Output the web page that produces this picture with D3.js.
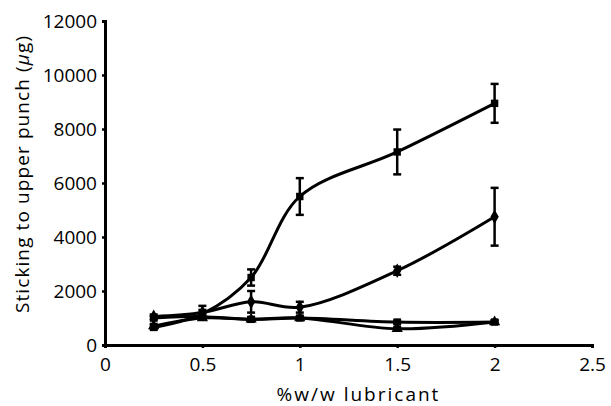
<!DOCTYPE html>
<html>
<head>
<meta charset="utf-8">
<script src="https://cdn.jsdelivr.net/npm/d3@7"></script>
<style>
  body { margin: 0; background: #fff; }
  svg text { font-family: "Open Sans", "Noto Sans", sans-serif; fill: #000; }
</style>
</head>
<body>
<div id="chart"></div>
<script>
// -------------------------------------------------------------------------
// Data

const lubricant = [0.25, 0.5, 0.75, 1, 1.5, 2];

const seriesA = [650, 1150, 2500, 5500, 7150, 8950];
const errorA = [80, 150, 300, 680, 830, 720];

const seriesB = [1050, 1200, 1600, 1400, 2750, 4750];
const errorB = [80, 250, 400, 200, 150, 1070];

const seriesC = [1000, 1050, 950, 1000, 850, 850];
const errorC = [80, 80, 80, 60, 60, 60];

const seriesD = [700, 1000, 950, 1000, 600, 850];
const errorD = [80, 60, 60, 60, 60, 60];

const xTicks = [0, 0.5, 1, 1.5, 2, 2.5];
const yTicks = [0, 2000, 4000, 6000, 8000, 10000, 12000];

// -------------------------------------------------------------------------
// Layout

const width = 611;
const height = 406;

const x = d3.scaleLinear().domain([0, 2.5]).range([105, 592]);
const y = d3.scaleLinear().domain([0, 12000]).range([345, 21]);

const svg = d3.select('#chart')
  .append('svg')
  .attr('width', width)
  .attr('height', height);

// axes
const xAxis = svg.append('g')
  .attr('transform', `translate(0,${y(0)})`)
  .call(d3.axisBottom(x).tickValues(xTicks).tickSize(3).tickPadding(10)
    .tickFormat(d => String(d)));

const yAxis = svg.append('g')
  .attr('transform', `translate(${x(0)},0)`)
  .call(d3.axisLeft(y).tickValues(yTicks).tickSize(3).tickPadding(5)
    .tickFormat(d => String(d)));

[xAxis, yAxis].forEach(function(g) {
  g.select('.domain').attr('stroke', '#000').attr('stroke-width', 3);
  g.selectAll('.tick line').attr('stroke', '#000').attr('stroke-width', 2.5);
  g.selectAll('.tick text').attr('font-size', 19).attr('fill', '#000');
});

// axis titles
svg.append('text')
  .attr('x', (x(0) + x(2.5)) / 2 + 10)
  .attr('y', 401)
  .attr('text-anchor', 'middle')
  .attr('font-size', 19)
  .attr('letter-spacing', 2)
  .text('%w/w lubricant');

const yTitle = svg.append('text')
  .attr('transform', 'translate(29,174) rotate(-90)')
  .attr('text-anchor', 'middle')
  .attr('font-size', 19)
  .attr('letter-spacing', 1.1);
yTitle.append('tspan').text('Sticking to upper punch (');
yTitle.append('tspan').attr('font-style', 'italic').text('\u03bc');
yTitle.append('tspan').text('g)');

// -------------------------------------------------------------------------
// Series

const series = [
  { values: seriesD, errors: errorD, marker: 'triangle' },
  { values: seriesC, errors: errorC, marker: 'square' },
  { values: seriesB, errors: errorB, marker: 'diamond' },
  { values: seriesA, errors: errorA, marker: 'square' }
];

const line = d3.line()
  .x(d => x(d.x))
  .y(d => y(d.y))
  .curve(d3.curveCatmullRom.alpha(0.5));

const symbols = {
  square: d3.symbol().type(d3.symbolSquare).size(55),
  diamond: d3.symbol().type(d3.symbolDiamond).size(60),
  triangle: d3.symbol().type(d3.symbolTriangle).size(55)
};

series.forEach(function(s) {
  const points = lubricant.map((v, i) => ({ x: v, y: s.values[i], e: s.errors[i] }));

  svg.append('path')
    .datum(points)
    .attr('fill', 'none')
    .attr('stroke', '#000')
    .attr('stroke-width', 3)
    .attr('d', line);

  const bars = svg.append('g')
    .attr('stroke', '#000')
    .attr('stroke-width', 2.5);

  points.forEach(function(p) {
    bars.append('line')
      .attr('x1', x(p.x)).attr('x2', x(p.x))
      .attr('y1', y(p.y - p.e)).attr('y2', y(p.y + p.e));
    [p.y - p.e, p.y + p.e].forEach(function(v) {
      bars.append('line')
        .attr('x1', x(p.x) - 4).attr('x2', x(p.x) + 4)
        .attr('y1', y(v)).attr('y2', y(v));
    });
  });

  svg.append('g')
    .selectAll('path')
    .data(points)
    .enter()
    .append('path')
    .attr('transform', d => `translate(${x(d.x)},${y(d.y)})`)
    .attr('d', symbols[s.marker])
    .attr('fill', '#000');
});
</script>
</body>
</html>
